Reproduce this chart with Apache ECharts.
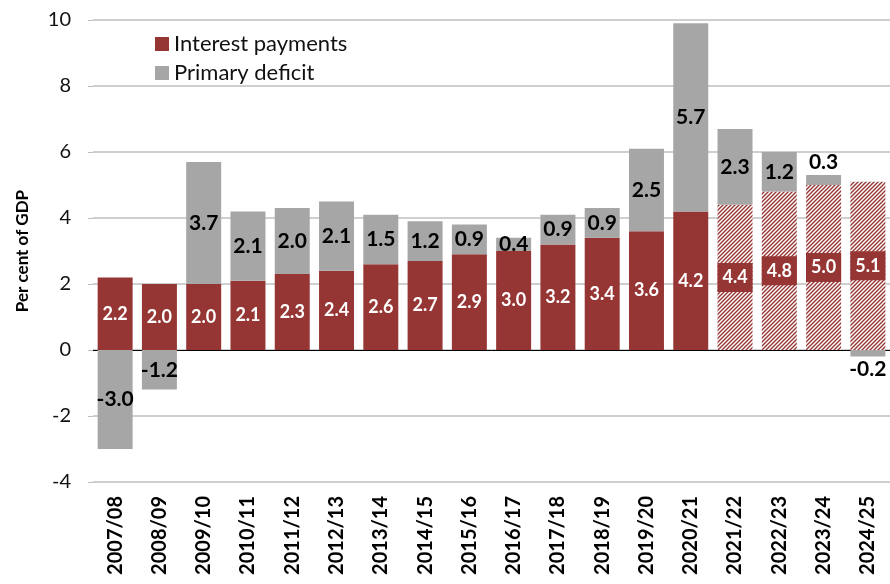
<!DOCTYPE html>
<html>
<head>
<meta charset="utf-8">
<script src="https://cdn.jsdelivr.net/npm/echarts@6/dist/echarts.min.js"></script>
<style>
  html, body { margin: 0; padding: 0; background: #fff; }
  #chart { width: 890px; height: 584px; }
</style>
</head>
<body>
<div id="chart"></div>
<script>
const years = ['2007/08', '2008/09', '2009/10', '2010/11', '2011/12', '2012/13', '2013/14', '2014/15', '2015/16',
  '2016/17', '2017/18', '2018/19', '2019/20', '2020/21', '2021/22', '2022/23', '2023/24', '2024/25']
const interest = [2.2, 2.0, 2.0, 2.1, 2.3, 2.4, 2.6, 2.7, 2.9, 3.0, 3.2, 3.4, 3.6, 4.2, 4.4, 4.8, 5.0, 5.1]
const primary = [-3.0, -1.2, 3.7, 2.1, 2.0, 2.1, 1.5, 1.2, 0.9, 0.4, 0.9, 0.9, 2.5, 5.7, 2.3, 1.2, 0.3, -0.2]
const firstForecast = 14 // 2021/22 onwards are projections

const red = '#963634'
const grey = '#a6a6a6'
const font = 'Lato'

// fine diagonal hatch for the projected years
function makeHatch() {
  const c = document.createElement('canvas')
  c.width = 4
  c.height = 4
  const ctx = c.getContext('2d')
  ctx.fillStyle = '#fff'
  ctx.fillRect(0, 0, 4, 4)
  ctx.strokeStyle = red
  ctx.lineWidth = 1.4
  ctx.beginPath()
  ctx.moveTo(0, 4); ctx.lineTo(4, 0)
  ctx.moveTo(-1, 1); ctx.lineTo(1, -1)
  ctx.moveTo(3, 5); ctx.lineTo(5, 3)
  ctx.stroke()
  return { image: c, repeat: 'repeat' }
}
const hatch = makeHatch()

const interestData = interest.map((v, i) => {
  if (i < firstForecast) return v
  return {
    value: v,
    itemStyle: { color: hatch },
    label: {
      backgroundColor: red,
      borderWidth: 0,
      textBorderWidth: 0,
      padding: [6, 5, 5, 5],
    },
  }
})

const primaryData = primary.map((v) => {
  if (Math.abs(v) >= 0.35) return v
  return { value: v, label: { position: v < 0 ? 'bottom' : 'top', distance: 2 } }
})

const chart = echarts.init(document.getElementById('chart'))
chart.setOption({
  animation: false,
  textStyle: { fontFamily: font },
  legend: {
    orient: 'vertical',
    left: 150,
    top: 28,
    itemWidth: 14,
    itemHeight: 14,
    itemGap: 7,
    textStyle: { fontSize: 22, color: '#111', fontFamily: font },
    data: [
      { name: 'Interest payments', icon: 'rect', itemStyle: { color: red } },
      { name: 'Primary deficit', icon: 'rect', itemStyle: { color: grey } },
    ],
  },
  grid: { left: 93, right: -6, top: 20, bottom: 102 },
  xAxis: {
    type: 'category',
    data: years,
    axisLine: { onZero: true, lineStyle: { color: '#000', width: 1 } },
    axisTick: { show: false },
    axisLabel: {
      rotate: 90,
      margin: 14,
      fontSize: 20,
      fontWeight: 'bold',
      color: '#000',
      fontFamily: font,
    },
  },
  yAxis: {
    type: 'value',
    min: -4,
    max: 10,
    interval: 2,
    name: 'Per cent of GDP',
    nameLocation: 'middle',
    nameGap: 62,
    nameTextStyle: { fontSize: 17, fontWeight: 'bold', color: '#000', fontFamily: font },
    axisLine: { show: false },
    axisTick: { show: true, length: 5, lineStyle: { color: '#bfbfbf' } },
    axisLabel: { fontSize: 20, color: '#111', margin: 22, fontFamily: font },
    splitLine: { lineStyle: { color: '#bfbfbf', width: 1.5 } },
  },
  series: [
    {
      name: 'Interest payments',
      type: 'bar',
      stack: 'total',
      barCategoryGap: '21%',
      itemStyle: { color: red },
      label: {
        show: true,
        position: 'inside',
        color: '#fff',
        fontSize: 18,
        fontWeight: 'bold',
        fontFamily: font,
        textBorderWidth: 0,
        formatter: (p) => p.value.toFixed(1),
      },
      data: interestData,
    },
    {
      name: 'Primary deficit',
      type: 'bar',
      stack: 'total',
      itemStyle: { color: grey },
      label: {
        show: true,
        position: 'inside',
        color: '#000',
        fontSize: 21,
        fontWeight: 'bold',
        fontFamily: font,
        textBorderWidth: 0,
        formatter: (p) => p.value.toFixed(1),
      },
      labelLayout: { hideOverlap: false },
      data: primaryData,
    },
  ],
})
</script>
</body>
</html>
